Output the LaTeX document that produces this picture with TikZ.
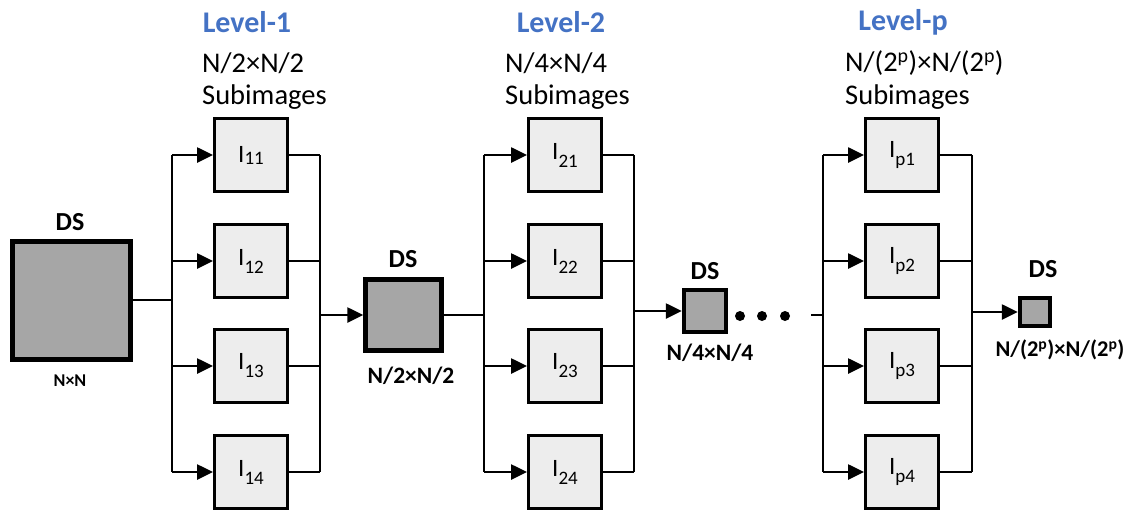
\documentclass[tikz,border=0pt]{standalone}
\usepackage{fontspec}
\setmainfont{Carlito}
\usetikzlibrary{arrows.meta}
\definecolor{lvblue}{HTML}{4472C4}
\definecolor{dsgray}{HTML}{A6A6A6}
\definecolor{subgray}{HTML}{EDEDED}
\newcommand{\Isub}[2]{\mbox{I\raisebox{#2}{\fontsize{19}{19}\selectfont #1}}}
\begin{document}
\begin{tikzpicture}[x=1pt,y=-1pt,
  conn/.style={line width=2.6pt},
  arr/.style={line width=2.6pt,-{Triangle[length=16pt,width=15pt]}},
  subbox/.style={draw,line width=3pt,fill=subgray,minimum width=73pt,minimum height=73pt,inner sep=0pt,font=\fontsize{25}{25}\selectfont},
  dsbox/.style={draw,line width=4.5pt,fill=dsgray,inner sep=0pt},
  lvl/.style={font=\fontsize{30}{30}\bfseries\selectfont,text=lvblue},
  hdr/.style={anchor=west,inner sep=0pt,font=\fontsize{28.5}{28.5}\selectfont},
  dslab/.style={font=\fontsize{26}{26}\bfseries\selectfont},
  dim/.style={font=\fontsize{23.5}{23.5}\bfseries\selectfont},
  dot/.style={fill=black,circle,inner sep=0pt,minimum size=10pt}
]
\useasboundingbox (0,0) rectangle (1129,512);

% headers
\node[lvl] (lv1) at (247,22) {Level-1};
\node[hdr] (h1a) at (202,63) {N/2×N/2};
\node[hdr] (h1b) at (202,97) {Subimages};
\node[lvl] (lv2) at (561,22) {Level-2};
\node[hdr] (h2a) at (505,63) {N/4×N/4};
\node[hdr] (h2b) at (505,97) {Subimages};
\node[lvl] (lvp) at (903,22) {Level-p};
\node[hdr] (hpa) at (845,63) {N/(2\textsuperscript{p})×N/(2\textsuperscript{p})};
\node[hdr] (hpb) at (845,97) {Subimages};

% DS boxes
\node[dsbox,minimum width=118pt,minimum height=118pt] (ds1) at (71.5,300.5) {};
\node[dsbox,minimum width=76pt,minimum height=71pt] (ds2) at (403.5,315) {};
\node[dsbox,minimum width=42pt,minimum height=42pt] (ds3) at (705,311) {};
\node[dsbox,minimum width=30pt,minimum height=28pt] (ds4) at (1035,312) {};

\node[dslab] (d1l) at (70,222) {DS};
\node[dslab] (d2l) at (403,259) {DS};
\node[dslab] (d3l) at (705,271) {DS};
\node[dslab] (d4l) at (1043,269) {DS};
\node[font=\fontsize{18}{18}\bfseries\selectfont] (d1d) at (70,381) {N×N};
\node[dim] (d2d) at (411,376) {N/2×N/2};
\node[dim] (d3d) at (710,353) {N/4×N/4};
\node[font=\fontsize{22.5}{22.5}\bfseries\selectfont] (d4d) at (1060,350) {N/(2\textsuperscript{p})×N/(2\textsuperscript{p})};

% subimage boxes
\node[subbox] (s11) at (251,155) {\Isub{11}{-2pt}};
\node[subbox] (s12) at (251,261) {\Isub{12}{-8pt}};
\node[subbox] (s13) at (251,366) {\Isub{13}{-8pt}};
\node[subbox] (s14) at (251,472) {\Isub{14}{-8pt}};
\node[subbox] (s21) at (565,155) {\Isub{21}{-8pt}};
\node[subbox] (s22) at (565,261) {\Isub{22}{-8pt}};
\node[subbox] (s23) at (565,366) {\Isub{23}{-8pt}};
\node[subbox] (s24) at (565,472) {\Isub{24}{-8pt}};
\node[subbox] (sp1) at (902,155) {\Isub{p1}{-8pt}};
\node[subbox] (sp2) at (902,261) {\Isub{p2}{-8pt}};
\node[subbox] (sp3) at (902,366) {\Isub{p3}{-8pt}};
\node[subbox] (sp4) at (902,472) {\Isub{p4}{-8pt}};

% bus coordinates
\coordinate (b1in) at (172,300);
\coordinate (b1out) at (320,315);
\coordinate (b2in) at (484,315);
\coordinate (b2out) at (634,311);
\coordinate (bpin) at (823,315);
\coordinate (pstub) at (811,315);
\coordinate (bpout) at (972,312);

% level 1
\draw[conn] (ds1.east |- b1in) -- (b1in);
\draw[conn] (b1in |- s11.west) -- (b1in |- s14.west);
\foreach \s in {s11,s12,s13,s14}{
  \draw[arr] (b1in |- \s.west) -- (\s.west);
  \draw[conn] (\s.east) -- (\s.east -| b1out);
}
\draw[conn] (s11.east -| b1out) -- (s14.east -| b1out);
\draw[arr] (b1out |- ds2.west) -- (ds2.west);

% level 2
\draw[conn] (ds2.east) -- (b2in |- ds2.east);
\draw[conn] (b2in |- s21.west) -- (b2in |- s24.west);
\foreach \s in {s21,s22,s23,s24}{
  \draw[arr] (b2in |- \s.west) -- (\s.west);
  \draw[conn] (\s.east) -- (\s.east -| b2out);
}
\draw[conn] (s21.east -| b2out) -- (s24.east -| b2out);
\draw[arr] (b2out |- ds3.west) -- (ds3.west);

% dots
\node[dot] (dt1) at (740,316) {};
\node[dot] (dt2) at (762,316) {};
\node[dot] (dt3) at (785,316) {};

% level p
\draw[conn] (pstub) -- (bpin);
\draw[conn] (bpin |- sp1.west) -- (bpin |- sp4.west);
\foreach \s in {sp1,sp2,sp3,sp4}{
  \draw[arr] (bpin |- \s.west) -- (\s.west);
  \draw[conn] (\s.east) -- (\s.east -| bpout);
}
\draw[conn] (sp1.east -| bpout) -- (sp4.east -| bpout);
\draw[arr] (bpout |- ds4.west) -- (ds4.west);
\end{tikzpicture}
\end{document}
